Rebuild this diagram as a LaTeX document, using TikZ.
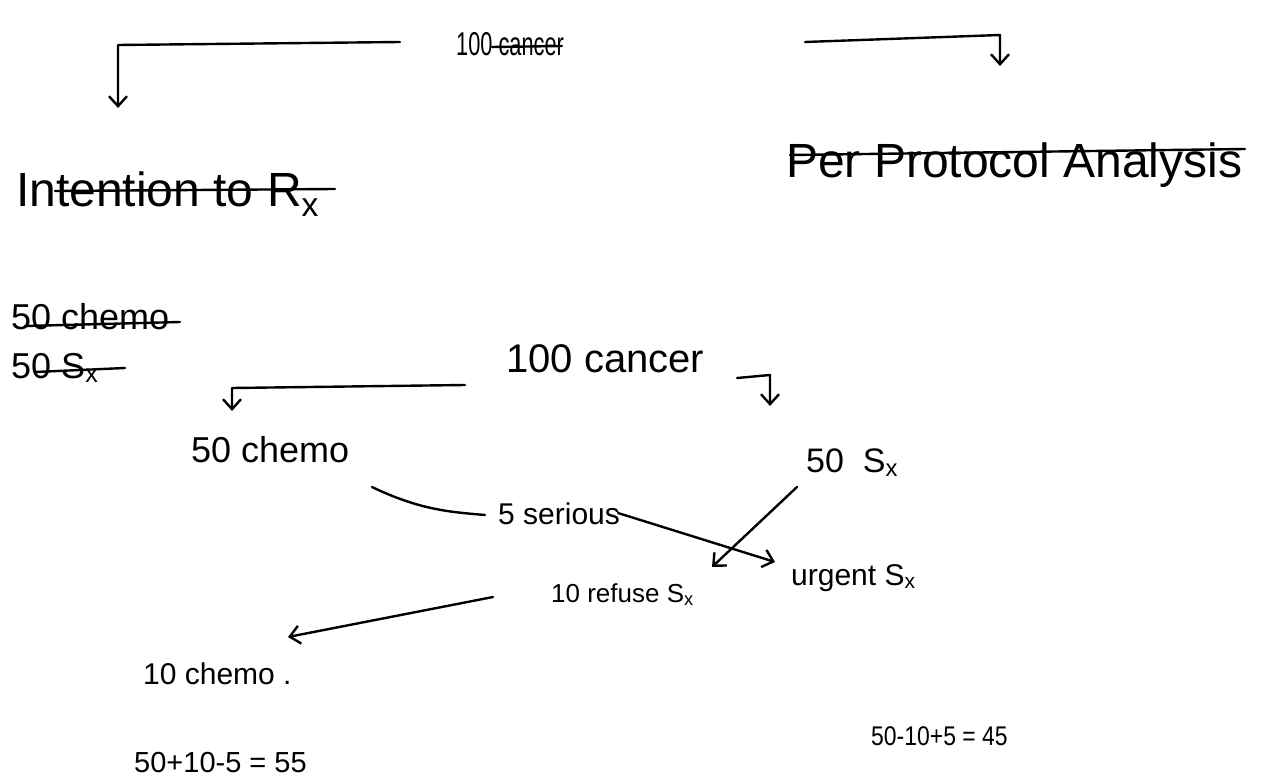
\documentclass[tikz,border=0pt]{standalone}
\usepackage{fontspec}
\setmainfont{Liberation Sans}
\usetikzlibrary{arrows.meta,calc}
\begin{document}
\begin{tikzpicture}[x=1pt,y=-1pt, line width=2.4pt, line cap=round, line join=round,
  lbl/.style={inner sep=0pt, anchor=base west},
  arr/.style={-{Straight Barb[length=10pt,width=18pt,line width=2.4pt]}},
  strike/.style={line width=2.4pt}]
\useasboundingbox[fill=white] (0,0) rectangle (1265,783);
% texts
\node[lbl, font=\fontsize{33}{35}\selectfont] (topc) at (455,56) {\scalebox{0.66}[1]{100 cancer}};
\node[lbl, font=\fontsize{48}{52}\selectfont] (itt) at (15,207) {Intention to R\textsubscript{x}};
\node[lbl, font=\fontsize{48}{52}\selectfont] (ppa) at (785,178) {Per Protocol Analysis};
\node[lbl, font=\fontsize{36}{40}\selectfont] (c1) at (10,330) {50 chemo};
\node[lbl, font=\fontsize{36}{40}\selectfont] (s1) at (10,378) {50 S\textsubscript{x}};
\node[lbl, font=\fontsize{40}{44}\selectfont] (midc) at (505,372) {100 cancer};
\node[lbl, font=\fontsize{36}{40}\selectfont] (chemo) at (190,462) {50 chemo};
\node[lbl, font=\fontsize{34}{40}\selectfont] (sx) at (805,472) {50\ \ S\textsubscript{x}};
\node[lbl, font=\fontsize{30}{34}\selectfont] (ser) at (497,524) {5 serious};
\node[lbl, font=\fontsize{30}{34}\selectfont] (urg) at (790,585) {urgent S\textsubscript{x}};
\node[lbl, font=\fontsize{26}{30}\selectfont] (ref) at (550,602) {10 refuse S\textsubscript{x}};
\node[lbl, font=\fontsize{30}{34}\selectfont] (c10) at (142,684) {10 chemo .};
\node[lbl, font=\fontsize{29}{34}\selectfont] (eq1) at (133,772) {50+10-5 = 55};
\node[lbl, font=\fontsize{27}{32}\selectfont] (eq2) at (870,745) {\scalebox{0.85}[1]{50-10+5 = 45}};
% strikes
\draw[strike] (492,47) -- (562,46);
\draw[strike] (55,191) -- (335,189);
\draw[strike] (790,155) -- (1245,149);
\draw[strike] (25,326) -- (180,322);
\draw[strike] (35,372) -- (125,368);
% connector coordinates
\coordinate (a1) at (400,42); \coordinate (a2) at (118,45); \coordinate (a3) at (118,108);
\coordinate (b1) at (805,42); \coordinate (b2) at (1000,35); \coordinate (b3) at (1000,66);
\coordinate (m1) at (465,385); \coordinate (m2) at (232,388); \coordinate (m3) at (232,411);
\coordinate (n1) at (737,378); \coordinate (n2) at (770,375); \coordinate (n3) at (770,406);
\coordinate (k1) at (372,487); \coordinate (k2) at (485,515);
\coordinate (u1) at (618,513); \coordinate (u2) at (775,562);
\coordinate (r1) at (797,487); \coordinate (r2) at (712,567);
\coordinate (q1) at (493,597); \coordinate (q2) at (288,637);
% connectors
\draw[arr] (a1) -- (a2) -- (a3);
\draw[arr] (b1) -- (b2) -- (b3);
\draw[arr] (m1) -- (m2) -- (m3);
\draw[arr] (n1) -- (n2) -- (n3);
\draw (k1) .. controls (420,510) and (450,512) .. (k2);
\draw[arr] (u1) -- (u2);
\draw[arr] (r1) -- (r2);
\draw[arr] (q1) -- (q2);
\end{tikzpicture}
\end{document}
